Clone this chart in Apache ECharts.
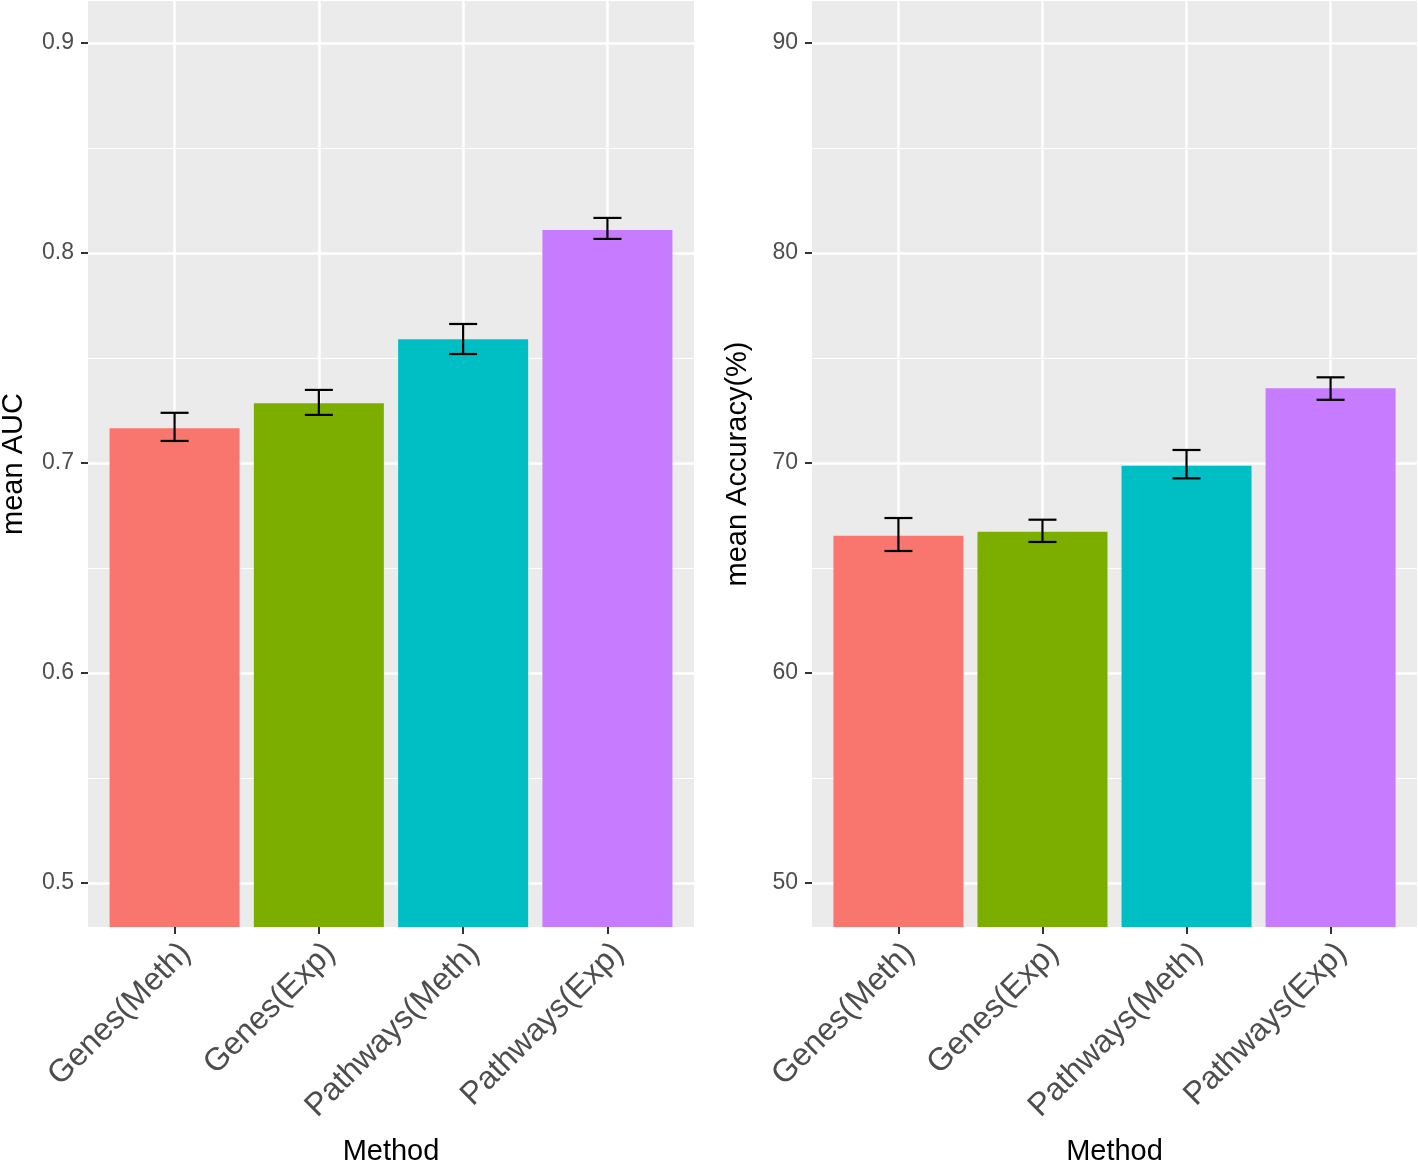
<!DOCTYPE html>
<html>
<head>
<meta charset="utf-8">
<script src="https://cdn.jsdelivr.net/npm/echarts@6/dist/echarts.min.js"></script>
<style>html,body{margin:0;padding:0;background:#fff}#c{width:1418px;height:1164px}</style>
</head>
<body>
<div id="c"></div>
<script>
const categories = ['Genes(Meth)', 'Genes(Exp)', 'Pathways(Meth)', 'Pathways(Exp)'];
const colors = ['#F8766D', '#7CAE00', '#00BFC4', '#C77CFF'];
const aucMean = [0.7165, 0.7284, 0.7589, 0.8110];
const aucLow  = [0.7105, 0.7229, 0.7519, 0.8067];
const aucHigh = [0.7239, 0.7348, 0.7662, 0.8167];
const accMean = [66.54, 66.73, 69.87, 73.56];
const accLow  = [65.81, 66.24, 69.27, 73.01];
const accHigh = [67.38, 67.30, 70.62, 74.08];
const aucTicks = [0.5, 0.6, 0.7, 0.8, 0.9];
const aucMinor = [0.55, 0.65, 0.75, 0.85];
const accTicks = [50, 60, 70, 80, 90];
const accMinor = [55, 65, 75, 85];

const FONT = '"Liberation Sans", Arial, sans-serif';
const pos = categories.map((c, i) => i + 1);

function xAxis(gridIndex) {
  return {
    type: 'value', gridIndex, min: 0.4, max: 4.6,
    name: 'Method', nameLocation: 'middle', nameGap: 210,
    nameTextStyle: {fontSize: 29, color: '#000', fontFamily: FONT, verticalAlign: 'top'},
    axisLine: {show: false},
    axisTick: {show: true, customValues: pos, length: 7, lineStyle: {color: '#333', width: 2}},
    axisLabel: {customValues: pos, formatter: v => categories[Math.round(v) - 1] || '',
      rotate: 45, align: 'right', verticalAlign: 'top', margin: 10,
      fontSize: 32, color: '#4D4D4D', fontFamily: FONT},
    splitLine: {show: true, lineStyle: {color: '#fff', width: 2.5}}
  };
}
function yMajor(gridIndex, min, max, ticks, name, fmt) {
  return {
    type: 'value', gridIndex, min, max, position: 'left',
    name, nameLocation: 'middle', nameGap: 60,
    nameTextStyle: {fontSize: 29, color: '#000', fontFamily: FONT},
    axisLine: {show: false},
    axisTick: {show: true, customValues: ticks, length: 7, lineStyle: {color: '#333', width: 2}},
    axisLabel: {customValues: ticks, formatter: fmt, margin: 14, fontSize: 23, color: '#4D4D4D', fontFamily: FONT},
    splitLine: {show: true, lineStyle: {color: '#fff', width: 2.5}}
  };
}
function yMinor(gridIndex, min, max, ticks) {
  return {
    type: 'value', gridIndex, min, max, position: 'right',
    axisLine: {show: false},
    axisTick: {show: false, customValues: ticks},
    axisLabel: {show: false, customValues: ticks},
    splitLine: {show: true, lineStyle: {color: '#fff', width: 1.2}}
  };
}
function bars(xi, yi, means) {
  return {
    type: 'bar', xAxisIndex: xi, yAxisIndex: yi, barWidth: 130, clip: true,
    data: means.map((v, i) => ({value: [pos[i], v], itemStyle: {color: colors[i]}})),
    z: 2
  };
}
function errs(xi, yi, lows, highs) {
  return {
    type: 'custom', xAxisIndex: xi, yAxisIndex: yi, z: 3,
    data: lows.map((l, i) => [pos[i], l, highs[i]]),
    renderItem: function (params, api) {
      const lo = api.coord([api.value(0), api.value(1)]);
      const hi = api.coord([api.value(0), api.value(2)]);
      const hw = 14;
      const st = {stroke: '#000', lineWidth: 2.2};
      return {type: 'group', children: [
        {type: 'line', shape: {x1: lo[0], y1: lo[1], x2: hi[0], y2: hi[1]}, style: st},
        {type: 'line', shape: {x1: lo[0] - hw, y1: lo[1], x2: lo[0] + hw, y2: lo[1]}, style: st},
        {type: 'line', shape: {x1: hi[0] - hw, y1: hi[1], x2: hi[0] + hw, y2: hi[1]}, style: st}
      ]};
    }
  };
}

const chart = echarts.init(document.getElementById('c'), null, {renderer: 'canvas'});
const aucMin = 0.47905, aucMax = 0.92, accMin = 47.905, accMax = 92.0;
chart.setOption({
  animation: false,
  backgroundColor: '#fff',
  textStyle: {fontFamily: FONT},
  grid: [
    {left: 88, top: 1, width: 606, height: 926, show: true, backgroundColor: '#EBEBEB', borderWidth: 0, containLabel: false, outerBoundsMode: 'none'},
    {left: 812, top: 1, width: 605, height: 926, show: true, backgroundColor: '#EBEBEB', borderWidth: 0, containLabel: false, outerBoundsMode: 'none'}
  ],
  xAxis: [xAxis(0), xAxis(1)],
  yAxis: [
    yMajor(0, aucMin, aucMax, aucTicks, 'mean AUC', v => v.toFixed(1)),
    yMinor(0, aucMin, aucMax, aucMinor),
    yMajor(1, accMin, accMax, accTicks, 'mean Accuracy(%)', v => String(Math.round(v))),
    yMinor(1, accMin, accMax, accMinor)
  ],
  series: [
    bars(0, 0, aucMean), errs(0, 0, aucLow, aucHigh),
    bars(1, 2, accMean), errs(1, 2, accLow, accHigh)
  ]
});
</script>
</body>
</html>
